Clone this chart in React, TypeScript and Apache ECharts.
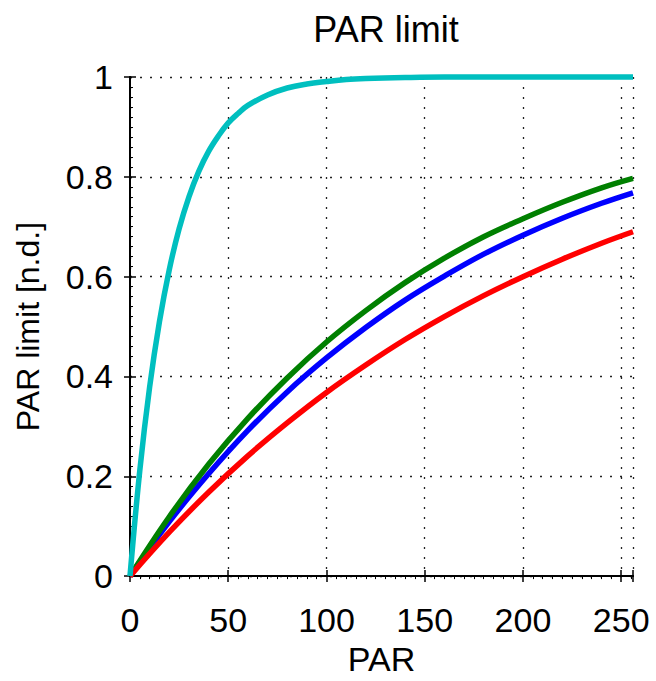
import React, { useEffect, useRef } from "react";
import * as echarts from "echarts";

const xTicks = [0, 50, 100, 150, 200, 250];
const yTicks = [0, 0.2, 0.4, 0.6, 0.8, 1];

const cyanX = [0, 5, 10, 15, 20, 25, 30, 35, 40, 45, 50, 55, 60, 70, 80, 90, 100, 110, 120, 140, 160, 180, 200, 230, 256];
const cyanY = [0, 0.212, 0.379, 0.51, 0.614, 0.696, 0.76, 0.811, 0.851, 0.882, 0.908, 0.927, 0.943, 0.964, 0.978, 0.986, 0.991, 0.995, 0.997, 0.999, 1.0, 1.0, 1.0, 1.0, 1.0];

const curveX = [0, 20, 40, 60, 80, 100, 120, 140, 160, 180, 200, 220, 240, 256];
const greenY = [0, 0.119, 0.224, 0.316, 0.397, 0.469, 0.532, 0.588, 0.637, 0.68, 0.716, 0.749, 0.778, 0.797];
const blueY = [0, 0.109, 0.205, 0.292, 0.369, 0.437, 0.498, 0.553, 0.601, 0.645, 0.683, 0.717, 0.747, 0.768];
const redY = [0, 0.088, 0.168, 0.241, 0.307, 0.368, 0.423, 0.474, 0.52, 0.562, 0.6, 0.635, 0.667, 0.69];

const FONT = "Liberation Sans";

function pairs(xs: number[], ys: number[]) {
  return xs.map((x, i) => [x, ys[i]]);
}

export default function App() {
  const ref = useRef<HTMLDivElement>(null);
  useEffect(() => {
    if (!ref.current) return;
    const chart = echarts.init(ref.current, undefined, { renderer: "svg" });
    const gridLine = { show: true, lineStyle: { color: "#222", width: 1.3, type: [2, 8] as any } };
    const axisLine = { show: true, lineStyle: { color: "#000", width: 2 } };
    const tick = { show: true, inside: true, length: 6, lineStyle: { color: "#000", width: 1.5 } };
    const line = (name: string, color: string, data: number[][], clip = true) => ({
      name,
      type: "line",
      data,
      smooth: 0.4,
      showSymbol: false,
      clip,
      lineStyle: { color, width: 5.5 },
      itemStyle: { color },
    });
    chart.setOption({
      animation: false,
      backgroundColor: "#fff",
      title: {
        text: "PAR limit",
        left: 381,
        top: 6,
        textAlign: "center",
        textStyle: { fontFamily: FONT, fontSize: 36, fontWeight: "normal", color: "#000" },
      },
      grid: { left: 130, top: 77, right: 23, bottom: 103, containLabel: false },
      xAxis: [
        {
          type: "value",
          min: 0,
          max: 256,
          interval: 50,
          position: "bottom",
          name: "PAR",
          nameLocation: "middle",
          nameGap: 62,
          nameTextStyle: { fontFamily: FONT, fontSize: 34, color: "#000" },
          axisLine,
          axisTick: tick,
          axisLabel: {
            margin: 27,
            fontFamily: FONT,
            fontSize: 34,
            color: "#000",
            formatter: (v: number) => (xTicks.includes(v) ? String(v) : ""),
          },
          splitLine: gridLine,
        },
        {
          type: "value",
          min: 0,
          max: 256,
          interval: 50,
          position: "top",
          axisLine,
          axisTick: tick,
          minorTick: { show: true, splitNumber: 10, length: 3, lineStyle: { color: "#000", width: 1 } },
          axisLabel: { show: false },
          splitLine: { show: false },
        },
      ],
      yAxis: [
        {
          type: "value",
          min: 0,
          max: 1,
          interval: 0.2,
          position: "left",
          name: "PAR limit [n.d.]",
          nameLocation: "middle",
          nameGap: 86,
          nameTextStyle: { fontFamily: FONT, fontSize: 32, color: "#000" },
          axisLine,
          axisTick: tick,
          minorTick: { show: true, splitNumber: 10, length: 3, lineStyle: { color: "#000", width: 1 } },
          axisLabel: {
            margin: 17,
            fontFamily: FONT,
            fontSize: 34,
            color: "#000",
            formatter: (v: number) => {
              const t = yTicks.find((y) => Math.abs(y - v) < 1e-9);
              return t === undefined ? "" : String(t);
            },
          },
          splitLine: gridLine,
        },
        {
          type: "value",
          min: 0,
          max: 1,
          interval: 0.2,
          position: "right",
          axisLine,
          axisTick: tick,
          axisLabel: { show: false },
          splitLine: { show: false },
        },
      ],
      series: [
        line("blue", "#0000ff", pairs(curveX, blueY)),
        line("green", "#008000", pairs(curveX, greenY)),
        line("red", "#ff0000", pairs(curveX, redY)),
        line("cyan", "#00bfbf", pairs(cyanX, cyanY), false),
      ],
    });
    return () => chart.dispose();
  }, []);
  return (
    <div
      ref={ref}
      style={{ position: "absolute", left: 0, top: 0, width: 656, height: 681, background: "#fff" }}
    />
  );
}
